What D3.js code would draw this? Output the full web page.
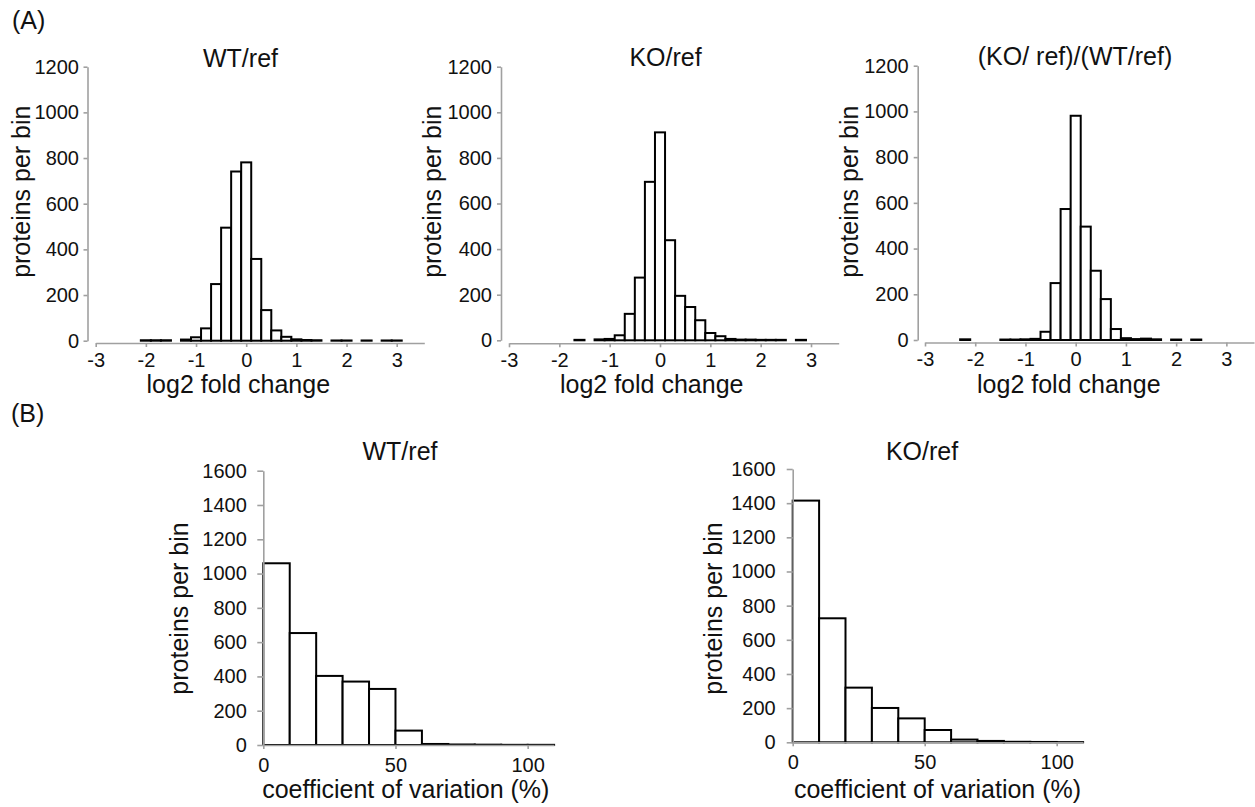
<!DOCTYPE html>
<html>
<head>
<meta charset="utf-8">
<script src="https://cdn.jsdelivr.net/npm/d3@7"></script>
<style>
  body { margin: 0; background: #fff; }
  svg text { font-family: "Liberation Sans", Arial, sans-serif; fill: #111; }
</style>
</head>
<body>
<div id="chart"></div>
<script>
// (A) log2 fold change histograms, bin centres (bin width 0.2)
const lfcBins = [-2.2, -2.0, -1.8, -1.6, -1.4, -1.2, -1.0, -0.8, -0.6, -0.4, -0.2, 0.0,
  0.2, 0.4, 0.6, 0.8, 1.0, 1.2, 1.4, 1.6, 1.8, 2.0, 2.2, 2.4, 2.6, 2.8, 3.0];
const wtLfc   = [0, 2, 2, 2, 0, 5, 15, 54, 248, 495, 741, 781,
  358, 134, 45, 17, 6, 3, 2, 0, 1, 1, 0, 1, 0, 1, 1];
const koLfc   = [0, 0, 0, 2, 0, 4, 6, 22, 116, 275, 695, 912,
  439, 195, 146, 88, 32, 18, 6, 3, 3, 2, 2, 2, 0, 2, 0];
const koWtLfc = [3, 0, 0, 0, 2, 2, 3, 5, 36, 249, 573, 981,
  496, 303, 179, 48, 8, 4, 6, 3, 0, 2, 0, 2, 0, 0, 0];
const lfcTicks = [-3, -2, -1, 0, 1, 2, 3];
const countTicksA = [0, 200, 400, 600, 800, 1000, 1200];

// (B) coefficient of variation histograms, bin starts (bin width 10)
const cvBins = [0, 10, 20, 30, 40, 50, 60, 70, 80, 90, 100];
const wtCv = [1060, 653, 403, 370, 327, 84, 6, 3, 2, 1, 1];
const koCv = [1415, 726, 320, 201, 140, 72, 16, 8, 3, 2, 1];
const cvTicks = [0, 50, 100];
const countTicksB = [0, 200, 400, 600, 800, 1000, 1200, 1400, 1600];

const width = 1255;
const height = 807;

const svg = d3.select('#chart')
  .append('svg')
  .attr('width', width)
  .attr('height', height);

// panel letters
svg.append('text').attr('x', 12).attr('y', 29).style('font-size', '25px').text('(A)');
svg.append('text').attr('x', 11).attr('y', 422).style('font-size', '25px').text('(B)');

const panels = [
  { title: 'WT/ref', counts: wtLfc, starts: lfcBins.map(d => d - 0.1), binW: 0.2,
    xDomain: [-3, 3.55], xRange: [95.7, 424.3], yDomain: [0, 1200], yRange: [340.7, 66.7],
    yAxisX: 87.5, xAxisY: 343, xTicks: lfcTicks, yTicks: countTicksA,
    ySize: 4, yPad: 4.5, xSize: 4, xPad: 5.5,
    titlePos: [240.5, 66.5], xLabel: 'log2 fold change', xLabelPos: [238.3, 393], yLabelPos: [21, 191.7] },
  { title: 'KO/ref', counts: koLfc, starts: lfcBins.map(d => d - 0.1), binW: 0.2,
    xDomain: [-3, 3.55], xRange: [509, 838.7], yDomain: [0, 1200], yRange: [340.3, 66.7],
    yAxisX: 501, xAxisY: 343.3, xTicks: lfcTicks, yTicks: countTicksA,
    ySize: 4, yPad: 5, xSize: 4, xPad: 5.5,
    titlePos: [665.5, 66], xLabel: 'log2 fold change', xLabelPos: [651.7, 393], yLabelPos: [431.8, 191.7] },
  { title: '(KO/ ref)/(WT/ref)', counts: koWtLfc, starts: lfcBins.map(d => d - 0.1), binW: 0.2,
    xDomain: [-3, 3.55], xRange: [925, 1254], yDomain: [0, 1200], yRange: [340, 65.7],
    yAxisX: 917.7, xAxisY: 342.5, xTicks: lfcTicks, yTicks: countTicksA,
    ySize: 4, yPad: 5, xSize: 4, xPad: 5.5,
    titlePos: [1075, 65], xLabel: 'log2 fold change', xLabelPos: [1068.8, 393], yLabelPos: [849.3, 191.7] },
  { title: 'WT/ref', counts: wtCv, starts: cvBins, binW: 10,
    xDomain: [0, 110], xRange: [263.3, 554.1], yDomain: [0, 1600], yRange: [745, 470.7],
    yAxisX: 263.3, xAxisY: 745, xTicks: cvTicks, yTicks: countTicksB,
    ySize: 6, yPad: 10.5, xSize: 4, xPad: 8.5,
    titlePos: [400, 460], xLabel: 'coefficient of variation (%)', xLabelPos: [405.8, 798], yLabelPos: [179.3, 608.5] },
  { title: 'KO/ref', counts: koCv, starts: cvBins, binW: 10,
    xDomain: [0, 110], xRange: [792.7, 1083.1], yDomain: [0, 1600], yRange: [742.3, 469],
    yAxisX: 792.7, xAxisY: 742.3, xTicks: cvTicks, yTicks: countTicksB,
    ySize: 6, yPad: 11, xSize: 4, xPad: 8.5,
    titlePos: [922, 460], xLabel: 'coefficient of variation (%)', xLabelPos: [937.5, 798], yLabelPos: [712.7, 608.5] }
];

panels.forEach(drawHist);

function drawHist(p) {
  const x = d3.scaleLinear().domain(p.xDomain).range(p.xRange);
  const y = d3.scaleLinear().domain(p.yDomain).range(p.yRange);

  const g = svg.append('g');

  // bins with count 0 are not drawn
  const bins = p.counts
    .map((c, i) => ({ start: p.starts[i], count: c }))
    .filter(d => d.count > 0);

  g.selectAll('rect')
    .data(bins)
    .enter()
    .append('rect')
    .attr('x', d => x(d.start))
    .attr('width', d => x(d.start + p.binW) - x(d.start))
    .attr('y', d => y(d.count))
    .attr('height', d => y(0) - y(d.count))
    .attr('fill', '#fff')
    .attr('stroke', '#000')
    .attr('stroke-width', 2);

  // plain labels: hyphen minus, no thousands separator
  const fmt = d => String(d);

  const yAxis = g.append('g')
    .attr('transform', `translate(${p.yAxisX},0)`)
    .call(d3.axisLeft(y).tickValues(p.yTicks).tickFormat(fmt)
      .tickSize(p.ySize).tickSizeOuter(0).tickPadding(p.yPad));

  const xAxis = g.append('g')
    .attr('transform', `translate(0,${p.xAxisY})`)
    .call(d3.axisBottom(x).tickValues(p.xTicks).tickFormat(fmt)
      .tickSize(p.xSize).tickSizeOuter(0).tickPadding(p.xPad));

  // axes in grey, labels in black
  [xAxis, yAxis].forEach(a => {
    a.attr('font-size', null).attr('font-family', null);
    a.select('.domain').attr('stroke', '#a0a0a0').attr('stroke-width', 1.6);
    a.selectAll('.tick line').attr('stroke', '#a0a0a0').attr('stroke-width', 1.6);
    a.selectAll('.tick text')
      .style('font-size', '20px')
      .attr('fill', '#111');
  });

  g.append('text')
    .attr('x', p.titlePos[0])
    .attr('y', p.titlePos[1])
    .attr('text-anchor', 'middle')
    .style('font-size', '25px')
    .text(p.title);

  g.append('text')
    .attr('x', p.xLabelPos[0])
    .attr('y', p.xLabelPos[1])
    .attr('text-anchor', 'middle')
    .style('font-size', '25px')
    .text(p.xLabel);

  g.append('text')
    .attr('transform', `translate(${p.yLabelPos[0]},${p.yLabelPos[1]}) rotate(-90)`)
    .attr('text-anchor', 'middle')
    .attr('dominant-baseline', 'central')
    .style('font-size', '25px')
    .text('proteins per bin');
}
</script>
</body>
</html>
